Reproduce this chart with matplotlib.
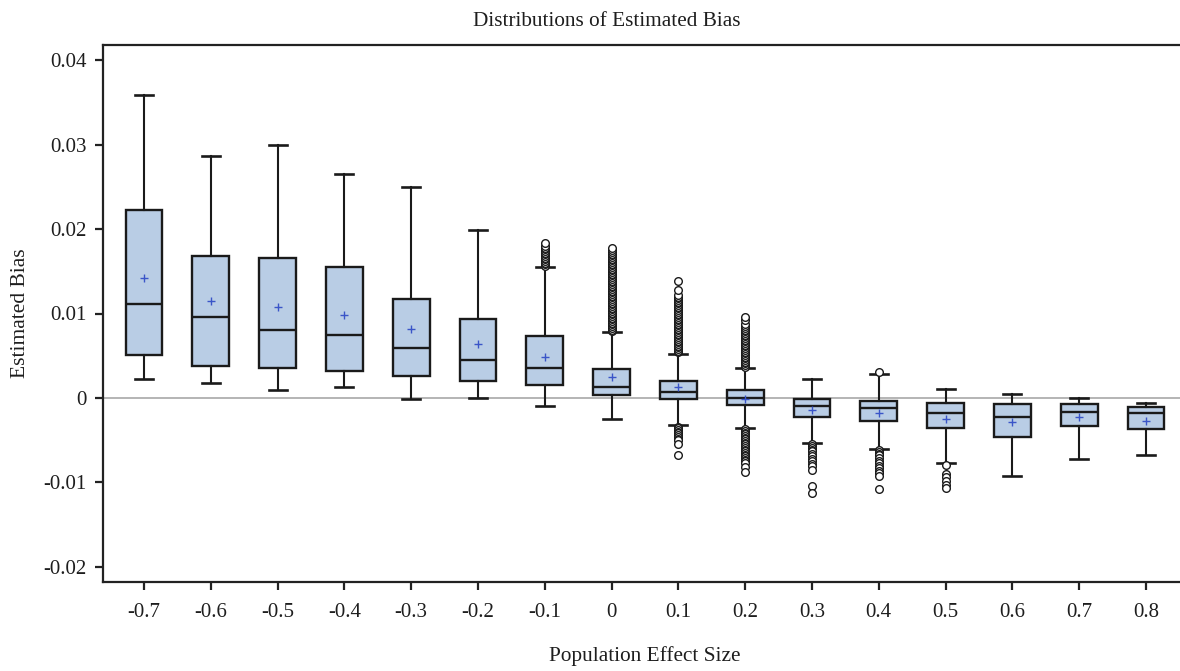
import matplotlib
matplotlib.use("Agg")
import matplotlib.pyplot as plt

# ---- data ----
categories = ["-0.7", "-0.6", "-0.5", "-0.4", "-0.3", "-0.2", "-0.1", "0",
              "0.1", "0.2", "0.3", "0.4", "0.5", "0.6", "0.7", "0.8"]
whisker_hi = [0.0359, 0.0287, 0.0299, 0.0265, 0.0250, 0.0199, 0.0155, 0.0078,
              0.0052, 0.0035, 0.0022, 0.0028, 0.0011, 0.0005, 0.0000, -0.0006]
q3 = [0.0223, 0.0168, 0.0166, 0.0155, 0.0117, 0.0094, 0.0073, 0.0034,
      0.0020, 0.0009, -0.0001, -0.0004, -0.0006, -0.0007, -0.0007, -0.0011]
median = [0.0111, 0.0096, 0.0080, 0.0074, 0.0059, 0.0045, 0.0036, 0.0013,
          0.0007, 0.0000, -0.0009, -0.0012, -0.0018, -0.0023, -0.0016, -0.0018]
mean = [0.0142, 0.0115, 0.0108, 0.0098, 0.0082, 0.0064, 0.0049, 0.0025,
        0.0013, -0.0001, -0.0014, -0.0018, -0.0025, -0.0029, -0.0023, -0.0027]
q1 = [0.0051, 0.0038, 0.0036, 0.0032, 0.0026, 0.0020, 0.0015, 0.0004,
      -0.0001, -0.0008, -0.0022, -0.0027, -0.0035, -0.0046, -0.0033, -0.0037]
whisker_lo = [0.0022, 0.0018, 0.0010, 0.0013, -0.0001, 0.0000, -0.0010, -0.0025,
              -0.0032, -0.0035, -0.0053, -0.0060, -0.0077, -0.0092, -0.0072, -0.0068]
outliers = [
    [], [], [], [], [], [],
    # -0.1
    [0.0156, 0.0158, 0.0160, 0.0162, 0.0164, 0.0166, 0.0168, 0.0170, 0.0172,
     0.0174, 0.0176, 0.0178, 0.0180, 0.0184],
    # 0
    [0.0079, 0.0081, 0.0083, 0.0085, 0.0087, 0.0089, 0.0091, 0.0093, 0.0095,
     0.0097, 0.0099, 0.0101, 0.0103, 0.0105, 0.0107, 0.0109, 0.0111, 0.0113,
     0.0115, 0.0117, 0.0119, 0.0121, 0.0123, 0.0125, 0.0127, 0.0129, 0.0131,
     0.0133, 0.0135, 0.0137, 0.0139, 0.0141, 0.0143, 0.0145, 0.0147, 0.0149,
     0.0151, 0.0153, 0.0155, 0.0157, 0.0159, 0.0161, 0.0163, 0.0165, 0.0167,
     0.0169, 0.0171, 0.0173, 0.0175, 0.0177],
    # 0.1
    [0.0054, 0.0056, 0.0058, 0.0060, 0.0062, 0.0064, 0.0066, 0.0068, 0.0070,
     0.0072, 0.0074, 0.0076, 0.0078, 0.0080, 0.0082, 0.0084, 0.0086, 0.0088,
     0.0090, 0.0092, 0.0094, 0.0096, 0.0098, 0.0100, 0.0102, 0.0104, 0.0106,
     0.0108, 0.0110, 0.0112, 0.0114, 0.0116, 0.0118, 0.0120, 0.0122, 0.0128,
     0.0139,
     -0.0034, -0.0036, -0.0038, -0.0040, -0.0042, -0.0044, -0.0046, -0.0048,
     -0.0050, -0.0054, -0.0068],
    # 0.2
    [0.0037, 0.0039, 0.0041, 0.0043, 0.0045, 0.0047, 0.0049, 0.0051, 0.0053,
     0.0055, 0.0057, 0.0059, 0.0061, 0.0063, 0.0065, 0.0067, 0.0069, 0.0071,
     0.0073, 0.0075, 0.0077, 0.0079, 0.0081, 0.0083, 0.0085, 0.0087, 0.0092,
     0.0096,
     -0.0037, -0.0039, -0.0041, -0.0043, -0.0045, -0.0047, -0.0049, -0.0051,
     -0.0053, -0.0055, -0.0057, -0.0059, -0.0061, -0.0063, -0.0065, -0.0067,
     -0.0069, -0.0071, -0.0073, -0.0075, -0.0077, -0.0082, -0.0088],
    # 0.3
    [-0.0055, -0.0057, -0.0059, -0.0061, -0.0063, -0.0066, -0.0069, -0.0072,
     -0.0075, -0.0078, -0.0081, -0.0085, -0.0104, -0.0113],
    # 0.4
    [0.0031, -0.0062, -0.0064, -0.0066, -0.0068, -0.0071, -0.0074, -0.0077,
     -0.0080, -0.0083, -0.0086, -0.0089, -0.0092, -0.0108],
    # 0.5
    [-0.0079, -0.0090, -0.0093, -0.0098, -0.0103, -0.0106],
    [], [], [],
]
x_label = "Population Effect Size"
y_label = "Estimated Bias"
title = "Distributions of Estimated Bias"
y_ticks = [-0.02, -0.01, 0, 0.01, 0.02, 0.03, 0.04]
y_ticklabels = ["-0.02", "-0.01", "0", "0.01", "0.02", "0.03", "0.04"]

# ---- drawing ----
plt.rcParams['font.family'] = ['Liberation Serif', 'DejaVu Serif']
W, H = 1180, 671
fig = plt.figure(figsize=(W / 100, H / 100), dpi=100)
left_px, right_px, top_px, bottom_px = 103.3, 1180, 45, 582
ax = fig.add_axes([left_px / W, 1 - bottom_px / H,
                   (right_px - left_px) / W, (bottom_px - top_px) / H])

stats = []
for i, c in enumerate(categories):
    stats.append(dict(label=c, whislo=whisker_lo[i], q1=q1[i], med=median[i],
                      q3=q3[i], whishi=whisker_hi[i], mean=mean[i],
                      fliers=outliers[i]))

positions = list(range(len(categories)))
ax.axhline(0, color='#a8a8a8', lw=1.2, zorder=0)
edge = '#1a1a1a'
ax.bxp(stats, positions=positions, widths=0.55, capwidths=0.27,
       showmeans=True, patch_artist=True,
       boxprops=dict(facecolor='#b9cde5', edgecolor=edge, linewidth=1.7),
       medianprops=dict(color=edge, linewidth=1.7),
       whiskerprops=dict(color=edge, linewidth=1.5),
       capprops=dict(color=edge, linewidth=1.9),
       meanprops=dict(marker='+', markeredgecolor='#3a55c8', markersize=6,
                      markeredgewidth=1.0),
       flierprops=dict(marker='o', markerfacecolor='white', markeredgecolor=edge,
                       markersize=5.5, markeredgewidth=1.0))

ax.set_xlim(-0.609, 15.51)
ax.set_ylim(-0.02178, 0.04178)
ax.set_xticks(positions)
ax.set_xticklabels(categories)
ax.set_yticks(y_ticks)
ax.set_yticklabels(y_ticklabels)
ax.tick_params(axis='both', labelsize=15, length=6, width=1.6, color='#222222',
               labelcolor='#1e1e1e', pad=6)
ax.tick_params(axis='x', pad=9)
for s in ['left', 'bottom', 'top']:
    ax.spines[s].set_linewidth(1.6)
    ax.spines[s].set_color('#222222')
ax.spines['right'].set_visible(False)

ax.set_xlabel(x_label, fontsize=15.3, color='#1e1e1e', va='center')
ax.xaxis.set_label_coords((645 - left_px) / (right_px - left_px),
                          (bottom_px - 656) / (bottom_px - top_px))
ax.set_ylabel(y_label, fontsize=15.5, color='#1e1e1e', va='center')
ax.yaxis.set_label_coords((21 - left_px) / (right_px - left_px),
                          (bottom_px - 313) / (bottom_px - top_px))
fig.text(607 / W, 1 - 22 / H, title, ha='center', va='center', fontsize=15.3,
         color='#1e1e1e')

fig.savefig('out.png', dpi=100)
